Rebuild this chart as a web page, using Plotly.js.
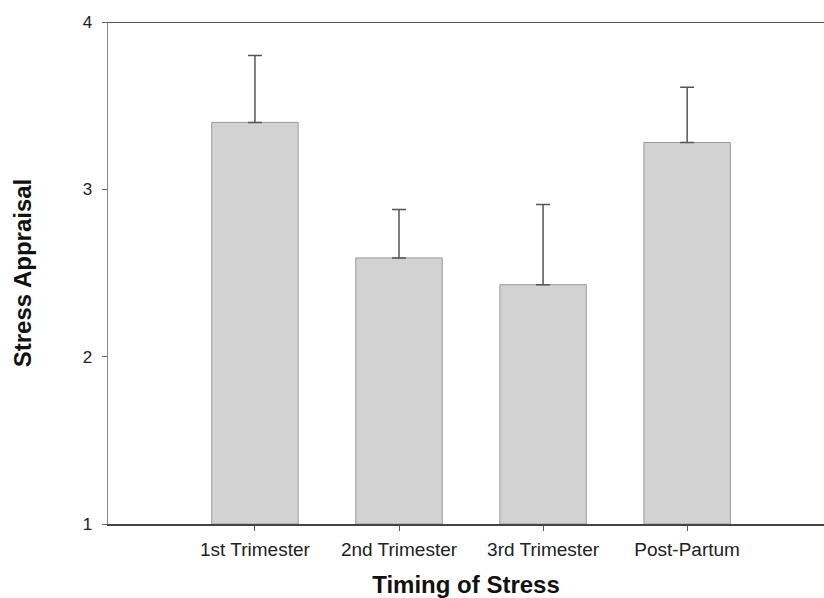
<!DOCTYPE html>
<html>
<head>
<meta charset="utf-8">
<script src="https://cdn.plot.ly/plotly-3.0.1.min.js"></script>
<style>html,body{margin:0;padding:0;background:#fff;}</style>
</head>
<body>
<div id="chart" style="width:824px;height:598px;"></div>
<script>
const categories = ["1st Trimester", "2nd Trimester", "3rd Trimester", "Post-Partum"];
const meanValues = [3.40, 2.59, 2.43, 3.28];
const errorPlus = [0.40, 0.29, 0.48, 0.33];
const yTickValues = [1, 2, 3, 4];
const axisBase = 1;

const trace = {
  type: "bar",
  x: categories,
  y: meanValues.map(v => v - axisBase),
  base: axisBase,
  width: 0.6,
  marker: {color: "#d2d2d2", line: {color: "#999999", width: 1}},
  error_y: {type: "data", symmetric: false, array: errorPlus, arrayminus: errorPlus.map(() => 0), visible: true, color: "#555555", thickness: 1.5, width: 7}
};

const layout = {
  width: 824, height: 598,
  margin: {l: 108, r: 0, t: 22, b: 74},
  paper_bgcolor: "#fff", plot_bgcolor: "#fff",
  showlegend: false,
  font: {family: "Liberation Sans, Arial, sans-serif", color: "#222"},
  xaxis: {
    range: [-1.02, 3.95],
    showline: true, linecolor: "#444", linewidth: 1.5,
    ticks: "outside", ticklen: 5, tickcolor: "#555",
    ticklabelstandoff: 3,
    tickfont: {size: 19, color: "#222"},
    showgrid: false, zeroline: false,
    title: {text: "<b>Timing of Stress</b>", font: {size: 24, color: "#111"}, standoff: 20}
  },
  yaxis: {
    range: [1, 4],
    tickvals: yTickValues,
    showline: true, linecolor: "#888", linewidth: 1.5, mirror: false,
    ticks: "outside", ticklen: 5, tickcolor: "#666",
    ticklabelstandoff: 6,
    tickfont: {size: 17, color: "#222"},
    showgrid: false, zeroline: false,
    title: {text: "<b>Stress Appraisal</b>", font: {size: 24, color: "#111"}, standoff: 44}
  },
  shapes: [{type: "line", xref: "paper", yref: "y", x0: 0, x1: 1, y0: 4, y1: 4, line: {color: "#222", width: 1.5}}]
};

Plotly.newPlot("chart", [trace], layout, {displayModeBar: false, staticPlot: true});
</script>
</body>
</html>
